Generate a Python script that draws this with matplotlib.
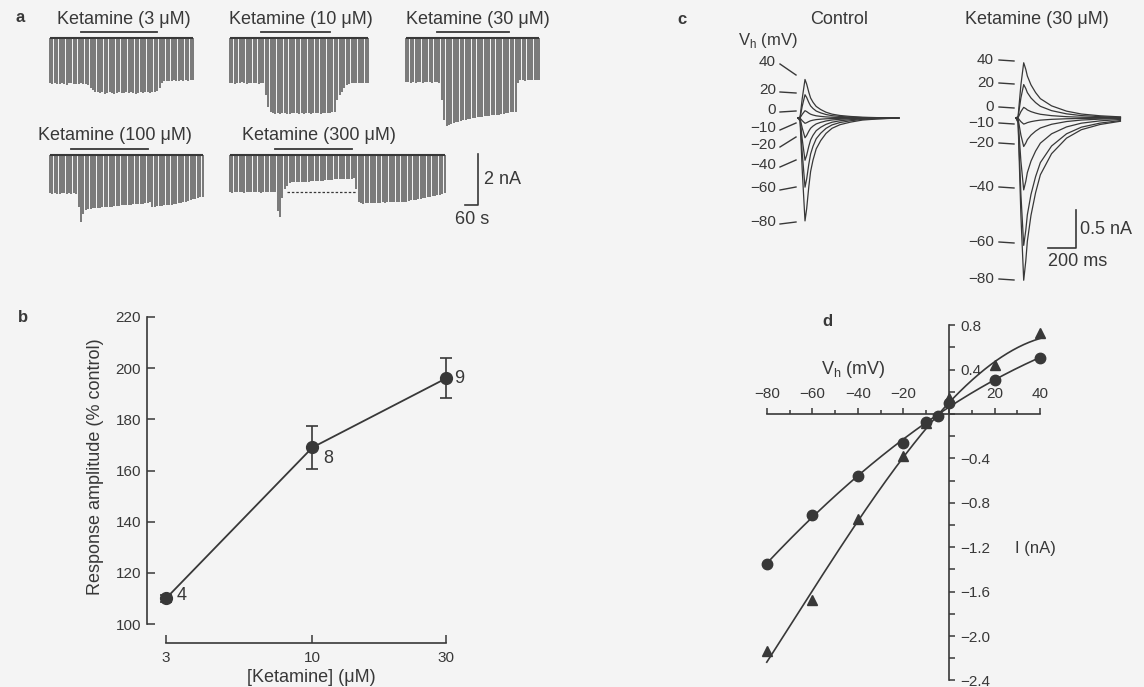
import numpy as np
import matplotlib
matplotlib.use("Agg")
import matplotlib.pyplot as plt
from matplotlib.transforms import Affine2D
from matplotlib.lines import Line2D
from matplotlib.ticker import FixedLocator, NullLocator, FuncFormatter

plt.rcParams['font.family'] = ['Liberation Sans', 'DejaVu Sans']
plt.rcParams['mathtext.fontset'] = 'custom'
plt.rcParams['mathtext.rm'] = 'Liberation Sans'

W, H = 1144, 687
INK = '#383838'
BG = '#f4f4f4'

# ---------------- data ----------------
# panel a: peak inward current (nA) of successive 5-HT responses, one every 11 s
pulse_dt = 11.0
conc_a = ['3', '10', '30', '100', '300']
depth_3 = [1.78, 1.80, 1.76, 1.82, 1.79, 1.77, 1.80, 1.83, 1.78, 1.76, 1.80, 1.79, 1.82, 1.78, 1.80, 1.81, 1.84,
           1.95, 2.05, 2.10,
           2.12, 2.15, 2.13, 2.18, 2.14, 2.12, 2.16, 2.19, 2.15, 2.13, 2.17, 2.14, 2.12, 2.16, 2.13, 2.15, 2.18,
           2.14, 2.12, 2.15, 2.13, 2.11, 2.14, 2.12, 2.10, 2.08,
           1.95, 1.78, 1.70,
           1.68, 1.67, 1.69, 1.66, 1.68, 1.67, 1.65, 1.68, 1.66, 1.67, 1.65, 1.66]
depth_10 = [1.77, 1.75, 1.79, 1.76, 1.78, 1.74, 1.77, 1.80, 1.76, 1.78, 1.75, 1.77, 1.79, 1.76, 1.78,
            2.24, 2.69, 2.89,
            2.95, 2.97, 2.94, 2.98, 2.96, 2.93, 2.97, 2.99, 2.95, 2.96, 2.94, 2.98, 2.95, 2.97, 2.93, 2.96,
            2.98, 2.94, 2.96, 2.95, 2.97, 2.93, 2.95, 2.96, 2.94, 2.92, 2.90,
            2.43, 2.25, 2.10, 1.95, 1.84,
            1.79, 1.77, 1.78, 1.76, 1.78, 1.77, 1.75, 1.77, 1.76]
depth_30 = [1.74, 1.72, 1.76, 1.73, 1.75, 1.71, 1.74, 1.76, 1.72, 1.74, 1.73, 1.75, 1.72, 1.74, 1.76,
            2.43, 3.20, 3.45, 3.42,
            3.38, 3.35, 3.30, 3.28, 3.24, 3.22, 3.20, 3.18, 3.16, 3.15, 3.12, 3.10, 3.09, 3.08, 3.06, 3.07,
            3.04, 3.03, 3.02, 3.01, 3.00, 2.98, 2.97, 2.95, 2.94, 2.92, 2.90, 2.89,
            1.75,
            1.66, 1.65, 1.67, 1.64, 1.66, 1.65, 1.63, 1.65, 1.64]
depth_100 = [1.50, 1.52, 1.48, 1.51, 1.53, 1.49, 1.50, 1.52, 1.48, 1.51, 1.50, 1.53,
             2.02, 2.62, 2.30, 2.16,
             2.12, 2.10, 2.09, 2.08, 2.07, 2.06, 2.05, 2.04, 2.03, 2.02, 2.02, 2.01, 2.00, 1.99, 1.98, 1.97,
             1.96, 1.96, 1.95, 1.94, 1.93, 1.92, 1.92, 1.91, 1.90, 1.88, 1.86,
             2.02, 2.03, 2.01, 2.00, 1.99, 1.98, 1.97, 1.96, 1.95, 1.93, 1.92, 1.90, 1.88, 1.86, 1.83, 1.80,
             1.77, 1.74, 1.71, 1.68, 1.66, 1.64]
depth_300 = [1.46, 1.48, 1.45, 1.47, 1.44, 1.46, 1.48, 1.45, 1.47, 1.46, 1.44, 1.47, 1.45, 1.48, 1.46,
             1.45, 1.47, 1.44, 1.46, 1.47,
             2.20, 2.45, 1.70, 1.35, 1.20, 1.10,
             1.07, 1.07, 1.06, 1.06, 1.05, 1.05, 1.04, 1.04, 1.03, 1.02, 1.02, 1.01, 1.00, 1.00, 0.99, 0.98,
             0.98, 0.97, 0.96, 0.96, 0.95, 0.95, 0.94, 0.94, 0.93, 0.93, 0.92,
             1.35, 1.85,
             1.90, 1.91, 1.90, 1.89, 1.90, 1.88, 1.89, 1.87, 1.88, 1.86, 1.87, 1.86, 1.85, 1.86, 1.84, 1.85,
             1.84, 1.83, 1.84, 1.83,
             1.80, 1.78, 1.77, 1.75, 1.74, 1.72, 1.70, 1.68, 1.66, 1.64, 1.62, 1.60, 1.58, 1.55, 1.52, 1.50]
depths = [depth_3, depth_10, depth_30, depth_100, depth_300]
app_on = [143, 143, 143, 97, 208]     # s from start of trace
app_off = [494, 461, 475, 452, 563]
dash_300 = (263, 586)                 # control level marker, s

# panel b: concentration-response
conc_b = [3, 10, 30]
resp_b = [110, 169, 196]
sem_b = [1.5, 8.5, 7.8]
n_b = [4, 8, 9]

# panel d: I-V relations (nA)
vh_ctrl = [-80, -60, -40, -20, -10, -5, 0, 20, 40]
i_ctrl = [-1.354, -0.91, -0.556, -0.26, -0.07, -0.02, 0.096, 0.306, 0.507]
vh_ket = [-80, -60, -40, -20, -10, 0, 20, 40]
i_ket = [-2.135, -1.676, -0.946, -0.375, -0.08, 0.14, 0.44, 0.727]

# panel c: time course of the responses (ms, fraction of peak)
vh_c = [40, 20, 0, -10, -20, -40, -60, -80]
t_ctrl = [0, 15, 30, 50, 62, 77, 90, 107, 130, 162, 200, 243, 300, 375, 460, 561, 720]
f_ctrl = [0, 0.03, 0.5, 1.0, 0.88, 0.67, 0.52, 0.41, 0.30, 0.22, 0.15, 0.10, 0.065, 0.04, 0.02, 0.01, 0.0]
t_ket = [0, 15, 35, 55, 70, 81, 107, 140, 174, 254, 361, 467, 600, 746]
f_ket = [0, 0.03, 0.6, 1.0, 0.88, 0.76, 0.60, 0.46, 0.35, 0.22, 0.124, 0.072, 0.04, 0.02]

# ---------------- figure ----------------
fig = plt.figure(figsize=(W / 100, H / 100), dpi=100, facecolor=BG)
PX = Affine2D().scale(1 / W, -1 / H).translate(0, 1) + fig.transFigure


def px_axes(x0, y0, x1, y1, ox, oy, sx, sy):
    # axes on a pixel box; data origin at pixel (ox, oy), sx/sy pixels per unit
    ax = fig.add_axes([x0 / W, 1 - y1 / H, (x1 - x0) / W, (y1 - y0) / H])
    ax.set_xlim((x0 - ox) / sx, (x1 - ox) / sx)
    ax.set_ylim((oy - y1) / sy, (oy - y0) / sy)
    return ax


def txt(x, y, s, size=11, ha='left', va='center', **kw):
    fig.text(x, y, s, transform=PX, fontsize=size, color=INK, ha=ha, va=va, **kw)


def seg(x0, y0, x1, y1, lw=1.1):
    fig.add_artist(Line2D([x0, x1], [y0, y1], transform=PX, color=INK, lw=lw))


# ---- panel a ----
SXA, SYA = 13 / 60, 25.5
axa = px_axes(0, 0, 560, 250, 0, 0, SXA, SYA)
axa.axis('off')
trace_x0 = [50, 230, 406, 50, 230]
trace_top = [38, 38, 38, 155, 155]
for k, d in enumerate(depths):
    t0 = trace_x0[k] / SXA
    y0 = -trace_top[k] / SYA
    t = t0 + pulse_dt * np.arange(len(d))
    axa.vlines(t, y0 - np.array(d), y0, color='#575757', lw=1.1)
    axa.plot([t[0], t[-1]], [y0, y0], color=INK, lw=1.5, solid_capstyle='butt')
    axa.plot([t0 + app_on[k], t0 + app_off[k]], [y0 + 6 / SYA] * 2, color=INK, lw=1.3)
    xc = (t0 + (app_on[k] + app_off[k]) / 2) * SXA + 5
    txt(xc, trace_top[k] - 19, f'Ketamine ({conc_a[k]} μM)', 13, ha='center')
    if conc_a[k] == '300':
        lvl = y0 - np.mean(d[:20])
        axa.plot([t0 + dash_300[0], t0 + dash_300[1]], [lvl, lvl], color=INK, lw=0.9,
                 linestyle=(0, (2, 1.5)))

# scale bar 2 nA / 60 s
sb_t, sb_y = 478 / SXA, -205 / SYA
axa.plot([sb_t - 60, sb_t, sb_t], [sb_y, sb_y, sb_y + 2], color=INK, lw=1.2)
txt(484, 179, '2 nA', 13)
txt(472, 219, '60 s', 13, ha='center')
txt(16, 18, 'a', 12, weight='bold')

# ---- panel b ----
axb = fig.add_axes([166 / W, 1 - 624 / H, (446 - 166) / W, (624 - 317) / H])
axb.set_facecolor('none')
axb.set_xscale('log')
axb.set_xlim(3, 30)
axb.set_ylim(100, 220)
eb = axb.errorbar(conc_b, resp_b, yerr=sem_b, fmt='-o', color=INK, ms=8.5, lw=1.3,
                  capsize=4.5, elinewidth=1.2, capthick=1.2)
eb[0].set_clip_on(False)
for a in list(eb[1]) + list(eb[2]):
    a.set_clip_on(False)
for c, r, n, dx, dy in zip(conc_b, resp_b, n_b, [16, 16, 13], [-3, 11, 0]):
    axb.annotate(str(n), (c, r), xytext=(dx, -dy), textcoords='offset pixels',
                 fontsize=13, color=INK, ha='center', va='center')
for s in ['top', 'right']:
    axb.spines[s].set_visible(False)
axb.spines['left'].set_position(('outward', 14))
axb.spines['bottom'].set_position(('outward', 13.7))
for s in ['left', 'bottom']:
    axb.spines[s].set_color(INK)
    axb.spines[s].set_linewidth(1.2)
axb.xaxis.set_major_locator(FixedLocator(conc_b))
axb.xaxis.set_minor_locator(NullLocator())
axb.set_xticklabels([str(c) for c in conc_b])
axb.set_yticks(np.arange(100, 221, 20))
axb.tick_params(direction='in', length=5.8, width=1.1, colors=INK, labelsize=11)
axb.tick_params(axis='x', pad=6)
axb.tick_params(axis='y', pad=4)
txt(96, 467, 'Response amplitude (% control)', 13, ha='center', rotation=90)
txt(311, 678, '[Ketamine] (μM)', 13, ha='center')
txt(18, 317, 'b', 12, weight='bold')

# ---- panel c ----
SXC, SYC = 0.14, 76
axc = px_axes(700, 30, 1144, 300, 798, 118, SXC, SYC)
axc.axis('off')
KET_T0 = (1016 - 798) / SXC
for v in vh_c:
    a = i_ctrl[vh_ctrl.index(v)]
    axc.plot(t_ctrl, a * np.array(f_ctrl), color=INK, lw=0.9)
    b = i_ket[vh_ket.index(v)]
    axc.plot(KET_T0 + np.array(t_ket), b * np.array(f_ket), color=INK, lw=0.9)

cb_t, cb_y = (1076 - 798) / SXC, (118 - 248) / SYC
axc.plot([cb_t - 200, cb_t, cb_t], [cb_y, cb_y, cb_y + 0.5], color=INK, lw=1.2)
txt(1080, 230, '0.5 nA', 13)
txt(1048, 262, '200 ms', 13)

ctrl_lab_y = [62, 90, 110, 128, 145, 165, 188, 222]
ctrl_lead_y = [75, 93, 111, 123, 137, 160, 187, 222]
ket_lab_y = [60, 83, 107, 123, 143, 187, 242, 279]
for v, ly, ey, ky in zip(vh_c, ctrl_lab_y, ctrl_lead_y, ket_lab_y):
    s = f'{v}'.replace('-', '−')
    txt(776, ly, s, 11, ha='right')
    seg(780, ly + 2, 796, ey, 1.0)
    txt(994, ky, s, 11, ha='right')
    seg(999, ky, 1014, ky + 1, 1.0)
txt(768, 40, r'V$_{\rm h}$ (mV)', 12, ha='center')
txt(839, 20, 'Control', 13, ha='center')
txt(1037, 20, 'Ketamine (30 μM)', 13, ha='center')
txt(677, 20, 'c', 12, weight='bold')

# ---- panel d ----
SXD, SYD = 2.278, 111
axd = px_axes(740, 315, 1060, 690, 949, 414, SXD, SYD)
axd.set_facecolor('none')
fits = [(vh_ctrl, i_ctrl, 'o', 7.5, 2, None),
        (vh_ket, i_ket, '^', 6.5, 3, [0.6, 1, 1, 1, 1, 1, 2, 1])]
for vv, ii, mk, ms, deg, w in fits:
    p = np.polyfit(vv, ii, deg, w=w)
    xs = np.linspace(min(vv), max(vv), 200)
    axd.plot(xs, np.polyval(p, xs), color=INK, lw=1.2)
    axd.plot(vv, ii, mk, ms=ms, color=INK, clip_on=False)
axd.spines['left'].set_visible(False)
axd.spines['bottom'].set_visible(False)
axd.spines['right'].set_position(('data', 0))
axd.spines['top'].set_position(('data', 0))
axd.spines['right'].set_bounds(-2.4, 0.8)
axd.spines['top'].set_bounds(-80, 40)
for s in ['right', 'top']:
    axd.spines[s].set_color(INK)
    axd.spines[s].set_linewidth(1.2)
axd.yaxis.tick_right()
axd.xaxis.tick_top()
axd.xaxis.set_major_locator(FixedLocator(range(-80, 41, 20)))
axd.xaxis.set_minor_locator(FixedLocator(range(-70, 31, 20)))
axd.yaxis.set_major_locator(FixedLocator(np.round(np.arange(-2.4, 0.81, 0.4), 1)))
axd.yaxis.set_minor_locator(FixedLocator(np.round(np.arange(-2.2, 0.61, 0.4), 1)))
axd.xaxis.set_major_formatter(FuncFormatter(lambda v, p: '' if v == 0 else f'{v:.0f}'.replace('-', '−')))
axd.yaxis.set_major_formatter(FuncFormatter(lambda v, p: '' if abs(v) < 1e-9 else f'{v:.1f}'.replace('-', '−')))
axd.tick_params(which='both', direction='out', colors=INK, width=1.1, labelsize=11)
axd.tick_params(axis='y', which='both', length=4, pad=4)
axd.tick_params(axis='x', which='major', length=4, pad=5)
axd.tick_params(axis='x', which='minor', length=2.8)
txt(853, 370, r'V$_{\rm h}$ (mV)', 13, ha='center')
txt(1015, 548, 'I (nA)', 12)
txt(822, 322, 'd', 12, weight='bold')

fig.savefig('out.png', dpi=100, facecolor=BG)
